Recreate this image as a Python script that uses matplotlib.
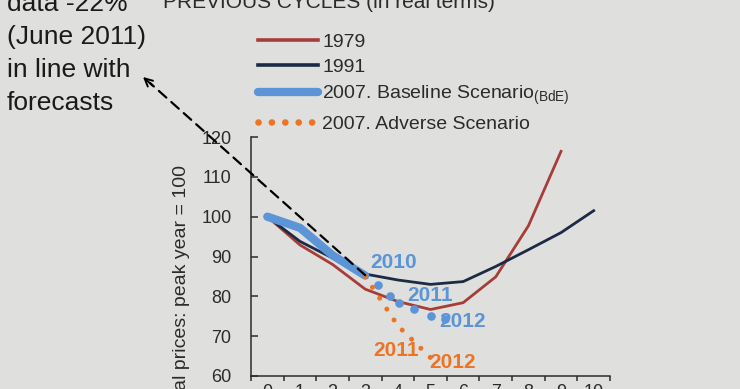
import numpy as np
import matplotlib.pyplot as plt
from matplotlib.lines import Line2D

plt.rcParams['font.family'] = ['Liberation Sans', 'DejaVu Sans']
plt.rcParams['mathtext.fontset'] = 'custom'
plt.rcParams['mathtext.rm'] = 'Liberation Sans'

# data (peak year = 100)
years = list(range(11))
cycle_1979 = [100, 92.9, 88.0, 81.8, 78.7, 76.7, 78.4, 84.9, 97.7, 116.4]
cycle_1991 = [100, 93.8, 89.6, 85.6, 84.1, 83.0, 83.7, 87.5, 91.7, 96.0, 101.5]
baseline_x = [0, 1, 2, 3]
baseline_y = [100, 97.2, 90.3, 85.2]
baseline_fc_x = [3.39, 3.76, 4.04, 4.5, 5.0, 5.45]
baseline_fc_y = [82.8, 80.2, 78.4, 76.7, 75.0, 74.4]
adverse_x = [3, 4, 5]
adverse_y = [85.0, 72.6, 64.6]

bg = '#dfe0dd'
red = '#a63d38'
navy = '#1c2a45'
blue = '#5b95d8'
orange = '#ec7424'
txt = '#2b2b2b'

fig = plt.figure(figsize=(7.4, 3.89), dpi=100, facecolor=bg)
ax = fig.add_axes([251 / 740, 13 / 389, 359 / 740, 239 / 389])
ax.set_facecolor(bg)

ax.plot(years[:len(cycle_1979)], cycle_1979, color=red, lw=2.0, zorder=3)
ax.plot(years, cycle_1991, color=navy, lw=2.0, zorder=3)
ax.plot(baseline_x, baseline_y, color=blue, lw=6, solid_capstyle='round',
        solid_joinstyle='round', zorder=4)
ax.plot(baseline_fc_x, baseline_fc_y, 'o', color=blue, ms=6.2, mew=0, zorder=4)
ax.plot(adverse_x, adverse_y, color=orange, lw=3.6, ls=(0, (0.01, 2.6)),
        dash_capstyle='round', zorder=5)

# point labels
lab = dict(fontsize=15, fontweight='bold', ha='center', va='center', zorder=6)
ax.text(3.86, 88.5, '2010', color=blue, **lab)
ax.text(5.0, 80.2, '2011', color=blue, **lab)
ax.text(5.99, 73.7, '2012', color=blue, **lab)
ax.text(3.95, 66.5, '2011', color=orange, **lab)
ax.text(5.68, 63.3, '2012', color=orange, **lab)

ax.set_xlim(-0.5, 10.5)
ax.set_ylim(60, 120)
ax.set_xticks(np.arange(-0.5, 11, 1))
ax.set_xticklabels([])
ax.set_xticks(years, minor=True)
ax.set_xticklabels([str(y) for y in years], minor=True)
ax.tick_params(axis='x', which='major', direction='out', length=3.5, width=1.1,
               color=txt)
ax.tick_params(axis='x', which='minor', length=0, pad=6, labelsize=13,
               labelcolor=txt)
ax.set_yticks(range(60, 121, 10))
ax.tick_params(axis='y', direction='in', length=5, width=1.1, color=txt,
               pad=14, labelsize=13, labelcolor=txt)
for s in ['top', 'right']:
    ax.spines[s].set_visible(False)
for s in ['left', 'bottom']:
    ax.spines[s].set_color(txt)
    ax.spines[s].set_linewidth(1.1)

# dashed arrow from the 2010 point to the note
ax.annotate('', xy=(150 / 740, 1 - 83 / 389), xycoords='figure fraction',
            xytext=(3.0, 85.3), textcoords='data',
            arrowprops=dict(arrowstyle='-', color='black', lw=1.6,
                            ls=(0, (4.5, 3)), shrinkA=0, shrinkB=0), zorder=7)
ax.annotate('', xy=(143 / 740, 1 - 77 / 389), xycoords='figure fraction',
            xytext=(153 / 740, 1 - 86 / 389), textcoords='figure fraction',
            arrowprops=dict(arrowstyle='->', color='black', lw=1.4,
                            mutation_scale=14, shrinkA=0, shrinkB=0), zorder=7)

# legend
handles = [
    Line2D([], [], color=red, lw=2.6),
    Line2D([], [], color=navy, lw=2.6),
    Line2D([], [], color=blue, lw=6, solid_capstyle='round'),
    Line2D([], [], color=orange, lw=4.8, ls=(0, (0.01, 2.0)), dash_capstyle='round'),
]
labels = ['1979', '1991', r'2007. Baseline Scenario$_{\mathrm{(BdE)}}$',
          '2007. Adverse Scenario']
fig.legend(handles, labels, loc='upper left', bbox_to_anchor=(258 / 740, 1 - 33 / 389),
           frameon=False, fontsize=14, handlelength=3.1, handletextpad=0.2,
           labelspacing=0.4, borderpad=0, borderaxespad=0, labelcolor=txt)

# title (cut at the top) and y label (cut at the bottom)
fig.text(163 / 740, 1 - 7.5 / 389, 'PREVIOUS CYCLES (in real terms)', fontsize=15,
         color=txt, ha='left', va='baseline')
fig.text(182 / 740, 1 - 165 / 389, 'Real prices: peak year = 100', fontsize=14,
         color=txt, rotation=90, ha='center', va='top')

# note on the left
note = ['data -22%', '(June 2011)', 'in line with', 'forecasts']
for i, line in enumerate(note):
    fig.text(7 / 740, 1 - (11 + 33 * i) / 389, line, fontsize=19, color='#1a1a1a',
             ha='left', va='baseline')

fig.savefig('out.png', dpi=100, facecolor=bg)
